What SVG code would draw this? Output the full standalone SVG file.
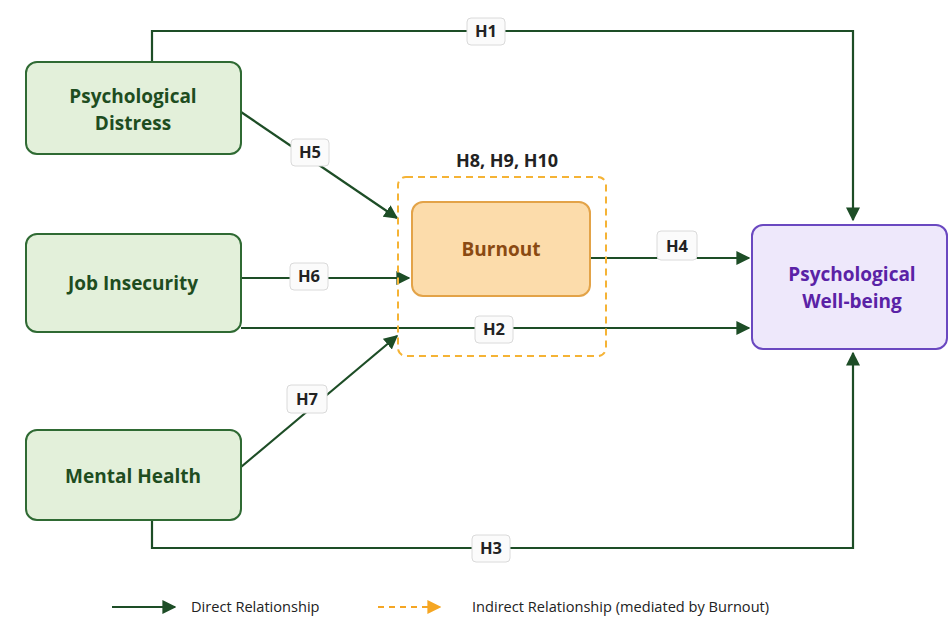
<svg xmlns="http://www.w3.org/2000/svg" width="948" height="620" viewBox="0 0 948 620">
<defs>
<marker id="ahs" viewBox="0 0 10 10" refX="9" refY="5" markerWidth="14" markerHeight="14" orient="auto" markerUnits="userSpaceOnUse">
<path d="M0,0 L10,5 L0,10 z" fill="#1d4d26"/>
</marker>
<marker id="aho" viewBox="0 0 10 10" refX="9" refY="5" markerWidth="14" markerHeight="14" orient="auto" markerUnits="userSpaceOnUse">
<path d="M0,0 L10,5 L0,10 z" fill="#f5a623"/>
</marker>
</defs>
<style>
.conn{fill:none;stroke:#1d4d26;stroke-width:2.2}
.green rect{fill:#e3f0da;stroke:#2f6a33;stroke-width:2}
.green text{fill:#1e4d1f;font-family:"Open Sans","Liberation Sans",sans-serif;font-weight:700;font-size:19px;text-anchor:middle}
.lbl rect{fill:#fbfbfb;stroke:#dadada;stroke-width:1}
.lbl text{fill:#222;font-family:"Open Sans","Liberation Sans",sans-serif;font-weight:700;font-size:16.5px;text-anchor:middle}
.leg{fill:#222;font-family:"Open Sans","Liberation Sans",sans-serif;font-size:14.6px}
</style>
<rect width="948" height="620" fill="#ffffff"/>

<g id="connectors">
<path class="conn" d="M152,62 V31 H853 V220" marker-end="url(#ahs)"/>
<path class="conn" d="M241,112 L397,218" marker-end="url(#ahs)"/>
<path class="conn" d="M241,278 H409" marker-end="url(#ahs)"/>
<path class="conn" d="M241,328 H749" marker-end="url(#ahs)"/>
<path class="conn" d="M241,467 L397,336" marker-end="url(#ahs)"/>
<path class="conn" d="M152,520 V548 H853 V353" marker-end="url(#ahs)"/>
<path class="conn" d="M590,258 H749" marker-end="url(#ahs)"/>
</g>

<g id="mediation">
<rect x="398" y="177" width="208" height="179" rx="8" fill="none" stroke="#f5b335" stroke-width="2" stroke-dasharray="7,5"/>
<text x="507" y="167" text-anchor="middle" font-family="'Open Sans','Liberation Sans',sans-serif" font-weight="700" font-size="18" fill="#222">H8, H9, H10</text>
</g>

<g id="distress" class="green">
<rect x="26" y="62" width="215" height="92" rx="11"/>
<text x="133" y="103">Psychological</text>
<text x="133" y="130">Distress</text>
</g>
<g id="job" class="green">
<rect x="26" y="234" width="215" height="98" rx="11"/>
<text x="133" y="290">Job Insecurity</text>
</g>
<g id="mental" class="green">
<rect x="26" y="430" width="215" height="90" rx="11"/>
<text x="133" y="483">Mental Health</text>
</g>
<g id="burnout">
<rect x="412" y="202" width="178" height="94" rx="11" fill="#fcdcab" stroke="#e3a348" stroke-width="2"/>
<text x="501" y="256" text-anchor="middle" font-family="'Open Sans','Liberation Sans',sans-serif" font-weight="700" font-size="19" fill="#8a4a12">Burnout</text>
</g>
<g id="wellbeing">
<rect x="752" y="225" width="195" height="124" rx="11" fill="#eee8fb" stroke="#6a48c0" stroke-width="2"/>
<text x="852" y="281" text-anchor="middle" font-family="'Open Sans','Liberation Sans',sans-serif" font-weight="700" font-size="19" fill="#5a22a6">Psychological</text>
<text x="852" y="308" text-anchor="middle" font-family="'Open Sans','Liberation Sans',sans-serif" font-weight="700" font-size="19" fill="#5a22a6">Well-being</text>
</g>

<g id="labels" class="lbl">
<g><rect x="467" y="18" width="38" height="27" rx="4"/><text x="486" y="37">H1</text></g>
<g><rect x="475" y="316" width="38" height="27" rx="4"/><text x="494" y="335">H2</text></g>
<g><rect x="472" y="535" width="38" height="27" rx="4"/><text x="491" y="554">H3</text></g>
<g><rect x="657" y="231" width="40" height="29" rx="4"/><text x="677" y="252">H4</text></g>
<g><rect x="291" y="139" width="38" height="27" rx="4"/><text x="310" y="158">H5</text></g>
<g><rect x="290" y="263" width="38" height="27" rx="4"/><text x="309" y="282">H6</text></g>
<g><rect x="287" y="385" width="40" height="28" rx="4"/><text x="307" y="405">H7</text></g>
</g>

<g id="legend">
<line x1="112" y1="607" x2="175" y2="607" stroke="#1d4d26" stroke-width="2.2" marker-end="url(#ahs)"/>
<text class="leg" x="191" y="612">Direct Relationship</text>
<line x1="378" y1="607" x2="440" y2="607" stroke="#f5a623" stroke-width="2" stroke-dasharray="6,5" marker-end="url(#aho)"/>
<text class="leg" x="472" y="612">Indirect Relationship (mediated by Burnout)</text>
</g>
</svg>
